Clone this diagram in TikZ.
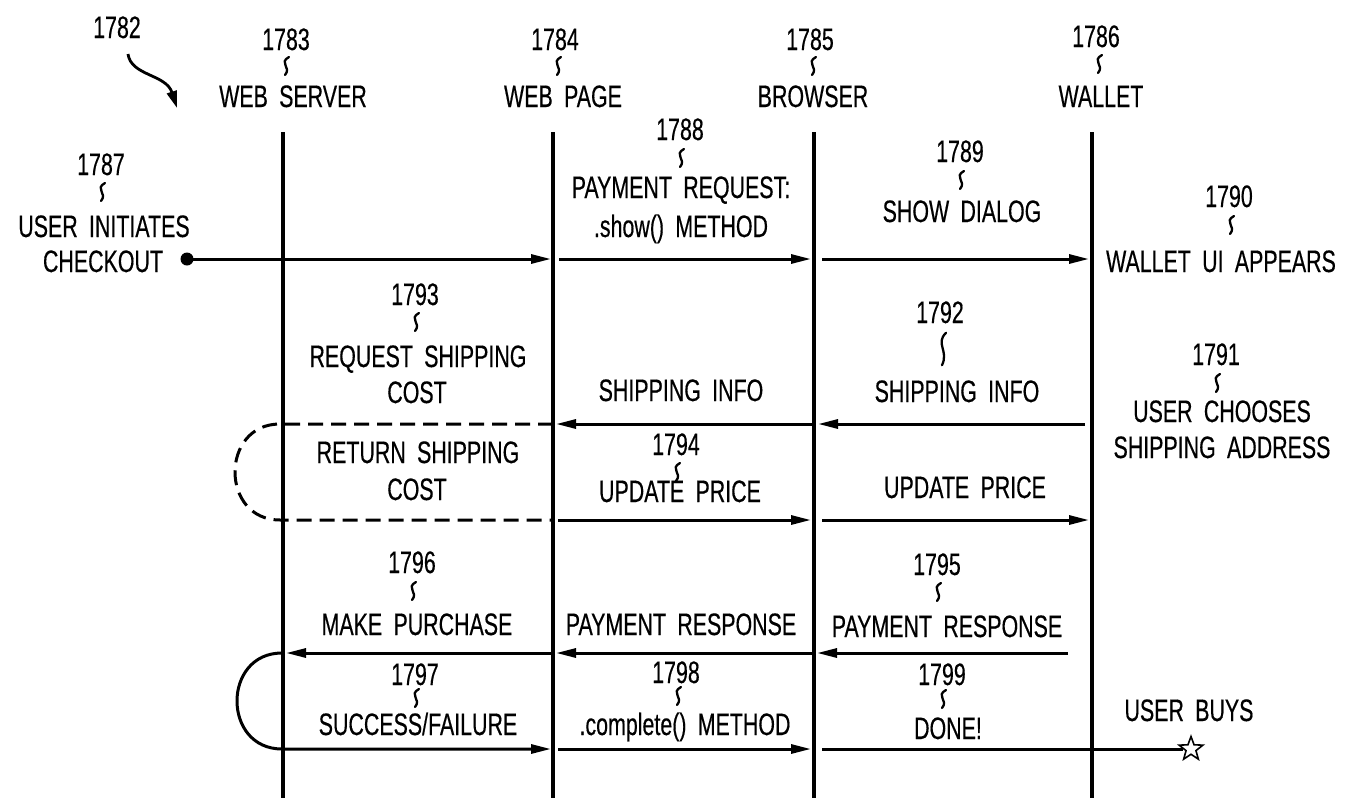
\documentclass[tikz,border=0pt]{standalone}
\usepackage{fontspec}
\setmainfont{Liberation Sans}[FakeStretch=0.69, WordSpace=1.9, FakeBold=0.4]
\usetikzlibrary{arrows.meta,shapes.geometric}
\tikzset{
  lbl/.style={font=\fontsize{31}{36}\selectfont, inner sep=0pt, anchor=base},
  life/.style={line width=3.4pt},
  msg/.style={line width=3pt, -{Triangle[length=20pt,width=9pt]}},
  plainline/.style={line width=3pt},
  dashline/.style={line width=3pt, dash pattern=on 15pt off 8pt},
  squig/.pic={\draw[line width=2.3pt, line cap=round] (4,-9) .. controls (-7,-3) and (7,1) .. (0,9);}
}
\begin{document}
\begin{tikzpicture}[x=1pt,y=-1pt]
\useasboundingbox (0,0) rectangle (1353,804);

% lifelines
\coordinate (ws-top) at (283,132); \coordinate (ws-bot) at (283,798);
\coordinate (wp-top) at (553,132); \coordinate (wp-bot) at (553,798);
\coordinate (br-top) at (814,132); \coordinate (br-bot) at (814,798);
\coordinate (wl-top) at (1092,132); \coordinate (wl-bot) at (1092,798);
\draw[life] (ws-top) -- (ws-bot);
\draw[life] (wp-top) -- (wp-bot);
\draw[life] (br-top) -- (br-bot);
\draw[life] (wl-top) -- (wl-bot);

% headers
\node[lbl] (n1782) at (117,38) {1782};
\coordinate (c1782s) at (128,54); \coordinate (c1782e) at (177,108);
\draw[line width=2.8pt, -{Triangle[length=17pt,width=10pt]}] (c1782s) .. controls (131,76) and (166,74) .. (c1782e);

\node[lbl] (n1783) at (286,50) {1783};
\pic at (285,66) {squig};
\node[lbl] (hws) at (293,107) {WEB SERVER};
\node[lbl] (n1784) at (555,50) {1784};
\pic at (557,66) {squig};
\node[lbl] (hwp) at (563,107) {WEB PAGE};
\node[lbl] (n1785) at (810,50) {1785};
\pic at (812,66) {squig};
\node[lbl] (hbr) at (813,107) {BROWSER};
\node[lbl] (n1786) at (1096,47) {1786};
\pic at (1098,64) {squig};
\node[lbl] (hwl) at (1101,107) {WALLET};

% row 1
\node[lbl] (n1787) at (101,175) {1787};
\pic at (101,192) {squig};
\node[lbl] (t1787a) at (104,237) {USER INITIATES};
\node[lbl] (t1787b) at (103,272) {CHECKOUT};
\node[lbl] (n1788) at (680,140) {1788};
\pic at (680,158) {squig};
\node[lbl] (t1788a) at (681,198) {PAYMENT REQUEST:};
\node[lbl] (t1788b) at (681,237) {.show() METHOD};
\node[lbl] (n1789) at (960,162) {1789};
\pic at (960,180) {squig};
\node[lbl] (t1789) at (962,222) {SHOW DIALOG};
\node[lbl] (n1790) at (1229,207) {1790};
\pic at (1230,225) {squig};
\node[lbl] (t1790) at (1221,272) {WALLET UI APPEARS};

\node[circle, fill, inner sep=0pt, minimum size=13pt] (dot) at (187,259) {};
\coordinate (r1a) at (551,259);
\coordinate (r1b) at (559,259); \coordinate (r1c) at (811,259);
\coordinate (r1d) at (822,259); \coordinate (r1e) at (1089,259);
\draw[msg] (dot.center) -- (r1a);
\draw[msg] (r1b) -- (r1c);
\draw[msg] (r1d) -- (r1e);

% row 2
\node[lbl] (n1793) at (415,305) {1793};
\pic at (415,322) {squig};
\node[lbl] (t1793a) at (418,367) {REQUEST SHIPPING};
\node[lbl] (t1793b) at (417,403) {COST};
\node[lbl] (tsi1) at (681,401) {SHIPPING INFO};
\node[lbl] (n1792) at (940,323) {1792};
\pic[yscale=1.8] at (942,349) {squig};
\node[lbl] (tsi2) at (957,402) {SHIPPING INFO};
\node[lbl] (n1791) at (1216,365) {1791};
\pic at (1216,383) {squig};
\node[lbl] (t1791a) at (1222,422) {USER CHOOSES};
\node[lbl] (t1791b) at (1222,458) {SHIPPING ADDRESS};

\coordinate (r2a) at (1085,424); \coordinate (r2b) at (818,424);
\coordinate (r2c) at (814,424); \coordinate (r2d) at (556,424);
\coordinate (r2e) at (553,424); \coordinate (r2f) at (280,424);
\draw[msg] (r2a) -- (r2b);
\draw[msg] (r2c) -- (r2d);

% row 3
\node[lbl] (trsc1) at (418,463) {RETURN SHIPPING};
\node[lbl] (trsc2) at (417,500) {COST};
\node[lbl] (n1794) at (676,455) {1794};
\pic at (676,472) {squig};
\node[lbl] (tup1) at (680,502) {UPDATE PRICE};
\node[lbl] (tup2) at (965,498) {UPDATE PRICE};

\coordinate (r3f) at (280,520); \coordinate (r3e) at (553,520);
\coordinate (r3a) at (558,520); \coordinate (r3b) at (811,520);
\coordinate (r3c) at (822,520); \coordinate (r3d) at (1089,520);
\draw[dashline] (r2e) -- (r2f) .. controls (220,424) and (220,520) .. (r3f) -- (r3e);
\draw[msg] (r3a) -- (r3b);
\draw[msg] (r3c) -- (r3d);

% row 4
\node[lbl] (n1796) at (412,573) {1796};
\pic at (412,591) {squig};
\node[lbl] (t1796) at (417,635) {MAKE PURCHASE};
\node[lbl] (tpr1) at (681,635) {PAYMENT RESPONSE};
\node[lbl] (n1795) at (937,575) {1795};
\pic at (937,592) {squig};
\node[lbl] (tpr2) at (947,637) {PAYMENT RESPONSE};

\coordinate (r4a) at (1068,653); \coordinate (r4b) at (817,653);
\coordinate (r4c) at (813,653); \coordinate (r4d) at (556,653);
\coordinate (r4e) at (553,653); \coordinate (r4f) at (286,653);
\draw[msg] (r4a) -- (r4b);
\draw[msg] (r4c) -- (r4d);
\draw[msg] (r4e) -- (r4f);

% row 5
\node[lbl] (n1797) at (415,685) {1797};
\pic at (415,698) {squig};
\node[lbl] (t1797) at (418,735) {SUCCESS/FAILURE};
\node[lbl] (n1798) at (676,683) {1798};
\pic at (677,696) {squig};
\node[lbl] (t1798) at (685,735) {.complete() METHOD};
\node[lbl] (n1799) at (942,685) {1799};
\pic at (942,699) {squig};
\node[lbl] (t1799) at (948,739) {DONE!};
\node[lbl] (tbuys) at (1189,721) {USER BUYS};

\node[star, star points=5, star point ratio=2.4, draw, line width=1.6pt, minimum size=25pt, inner sep=0pt] (star) at (1191,749) {};
\coordinate (r4g) at (282,653); \coordinate (r5g) at (282,749);
\coordinate (r5a) at (551,749);
\coordinate (r5b) at (558,749); \coordinate (r5c) at (811,749);
\coordinate (r5d) at (822,749);
\draw[msg] (r4g) .. controls (222,653) and (222,749) .. (r5g) -- (r5a);
\draw[msg] (r5b) -- (r5c);
\draw[plainline] (r5d) -- (star.west);
\end{tikzpicture}
\end{document}
